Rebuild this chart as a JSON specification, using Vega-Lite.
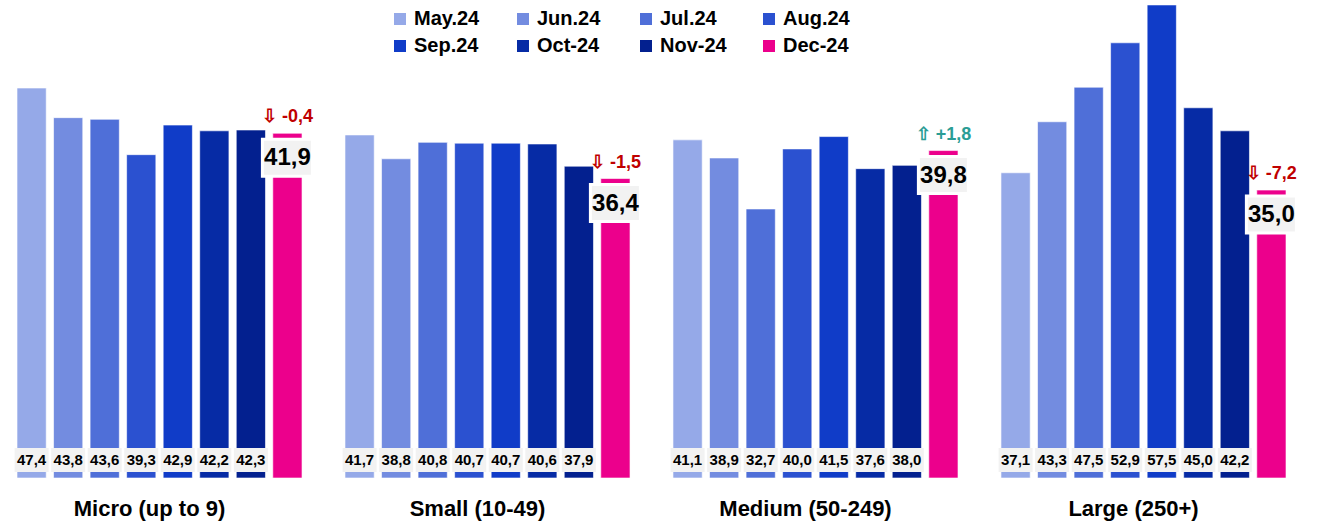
{
  "$schema": "https://vega.github.io/schema/vega-lite/v6.json",
  "width": 1322,
  "height": 478,
  "autosize": "none",
  "padding": {"left": 0, "top": 0, "right": 0, "bottom": 47},
  "background": "white",
  "config": {
    "view": {"stroke": null},
    "font": "Liberation Sans",
    "locale": {"number": {"decimal": ",", "thousands": ".", "grouping": [3], "currency": ["", " €"], "minus": "-"}}
  },
  "data": {
    "values": [
      {"group": "Micro (up to 9)", "month": "May.24", "value": 47.4},
      {"group": "Micro (up to 9)", "month": "Jun.24", "value": 43.8},
      {"group": "Micro (up to 9)", "month": "Jul.24", "value": 43.6},
      {"group": "Micro (up to 9)", "month": "Aug.24", "value": 39.3},
      {"group": "Micro (up to 9)", "month": "Sep.24", "value": 42.9},
      {"group": "Micro (up to 9)", "month": "Oct-24", "value": 42.2},
      {"group": "Micro (up to 9)", "month": "Nov-24", "value": 42.3},
      {"group": "Micro (up to 9)", "month": "Dec-24", "value": 41.9, "change": -0.4},
      {"group": "Small (10-49)", "month": "May.24", "value": 41.7},
      {"group": "Small (10-49)", "month": "Jun.24", "value": 38.8},
      {"group": "Small (10-49)", "month": "Jul.24", "value": 40.8},
      {"group": "Small (10-49)", "month": "Aug.24", "value": 40.7},
      {"group": "Small (10-49)", "month": "Sep.24", "value": 40.7},
      {"group": "Small (10-49)", "month": "Oct-24", "value": 40.6},
      {"group": "Small (10-49)", "month": "Nov-24", "value": 37.9},
      {"group": "Small (10-49)", "month": "Dec-24", "value": 36.4, "change": -1.5},
      {"group": "Medium (50-249)", "month": "May.24", "value": 41.1},
      {"group": "Medium (50-249)", "month": "Jun.24", "value": 38.9},
      {"group": "Medium (50-249)", "month": "Jul.24", "value": 32.7},
      {"group": "Medium (50-249)", "month": "Aug.24", "value": 40.0},
      {"group": "Medium (50-249)", "month": "Sep.24", "value": 41.5},
      {"group": "Medium (50-249)", "month": "Oct-24", "value": 37.6},
      {"group": "Medium (50-249)", "month": "Nov-24", "value": 38.0},
      {"group": "Medium (50-249)", "month": "Dec-24", "value": 39.8, "change": 1.8},
      {"group": "Large (250+)", "month": "May.24", "value": 37.1},
      {"group": "Large (250+)", "month": "Jun.24", "value": 43.3},
      {"group": "Large (250+)", "month": "Jul.24", "value": 47.5},
      {"group": "Large (250+)", "month": "Aug.24", "value": 52.9},
      {"group": "Large (250+)", "month": "Sep.24", "value": 57.5},
      {"group": "Large (250+)", "month": "Oct-24", "value": 45.0},
      {"group": "Large (250+)", "month": "Nov-24", "value": 42.2},
      {"group": "Large (250+)", "month": "Dec-24", "value": 35.0, "change": -7.2}
    ]
  },
  "encoding": {
    "x": {
      "field": "group",
      "type": "nominal",
      "sort": null,
      "scale": {"range": [17, 1286], "paddingInner": 0.131, "paddingOuter": 0},
      "axis": {
        "title": null,
        "labelAngle": 0,
        "domain": false,
        "ticks": false,
        "labelFontSize": 22,
        "labelFontWeight": "bold",
        "labelColor": "black",
        "labelPadding": 20,
        "labelOffset": -10
      }
    },
    "xOffset": {
      "field": "month",
      "type": "nominal",
      "scale": {
        "domain": ["May.24", "Jun.24", "Jul.24", "Aug.24", "Sep.24", "Oct-24", "Nov-24", "Dec-24"],
        "paddingInner": 0.2,
        "paddingOuter": 0
      }
    }
  },
  "layer": [
    {
      "mark": {"type": "bar", "stroke": "white", "strokeOpacity": 0.6, "strokeWidth": 1},
      "encoding": {
        "y": {"field": "value", "type": "quantitative", "scale": {"domain": [0, 58.1], "nice": false}, "axis": null},
        "color": {
          "field": "month",
          "type": "nominal",
          "scale": {
            "domain": ["May.24", "Jun.24", "Jul.24", "Aug.24", "Sep.24", "Oct-24", "Nov-24", "Dec-24"],
            "range": ["#95a9e8", "#738ce0", "#4f6fd8", "#2b51d0", "#103cc8", "#062ba5", "#03208f", "#ec008c"]
          },
          "legend": {
            "title": null,
            "orient": "none",
            "legendX": 390,
            "legendY": 9,
            "direction": "horizontal",
            "columns": 4,
            "gridAlign": "all",
            "columnPadding": 32,
            "rowPadding": 7,
            "padding": 0,
            "symbolType": "square",
            "symbolSize": 144,
            "symbolStrokeWidth": 0,
            "labelOffset": 4,
            "labelFontSize": 20,
            "labelFontWeight": "bold",
            "labelColor": "black"
          }
        }
      }
    },
    {
      "transform": [{"filter": "datum.month !== 'Dec-24'"}],
      "mark": {"type": "tick", "color": "#f2f2f2", "opacity": 1, "size": 34, "thickness": 24},
      "encoding": {
        "y": {"datum": 2.19, "type": "quantitative"}
      }
    },
    {
      "transform": [{"filter": "datum.month !== 'Dec-24'"}],
      "mark": {"type": "text", "fontSize": 15, "fontWeight": "bold", "color": "black", "baseline": "middle"},
      "encoding": {
        "y": {"datum": 2.19, "type": "quantitative"},
        "text": {"field": "value", "type": "quantitative", "format": ".1f"}
      }
    },
    {
      "transform": [{"filter": "datum.month === 'Dec-24'"}],
      "mark": {"type": "tick", "color": "#f2f2f2", "opacity": 1, "size": 50, "thickness": 37, "yOffset": 24.5, "stroke": "white", "strokeWidth": 3},
      "encoding": {
        "y": {"field": "value", "type": "quantitative"}
      }
    },
    {
      "transform": [{"filter": "datum.month === 'Dec-24'"}],
      "mark": {"type": "text", "fontSize": 24, "fontWeight": "bold", "color": "black", "baseline": "middle", "dy": 25},
      "encoding": {
        "y": {"field": "value", "type": "quantitative"},
        "text": {"field": "value", "type": "quantitative", "format": ".1f"}
      }
    },
    {
      "transform": [
        {"filter": "datum.month === 'Dec-24'"},
        {"calculate": "(datum.change < 0 ? '⇩ ' : '⇧ ') + format(datum.change, '+.1f')", "as": "changeLabel"}
      ],
      "mark": {"type": "text", "fontSize": 18, "fontWeight": "bold", "baseline": "middle", "dy": -16},
      "encoding": {
        "y": {"field": "value", "type": "quantitative"},
        "text": {"field": "changeLabel", "type": "nominal"},
        "color": {"condition": {"test": "datum.change > 0", "value": "#2a9d95"}, "value": "#c00000"}
      }
    }
  ]
}
